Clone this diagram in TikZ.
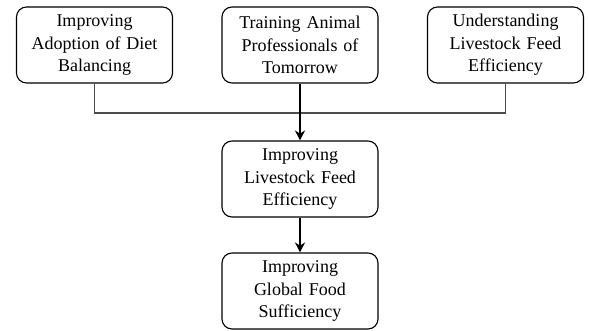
\documentclass[tikz,border=0pt]{standalone}
\usepackage{fontspec}
\setmainfont{Liberation Serif}
\usepackage{xcolor}
\usetikzlibrary{arrows.meta}

\tikzset{
  goalbox/.style={draw, line width=1.1pt, rounded corners=10pt, align=center,
    minimum width=156pt, minimum height=76pt, text width=150pt,
    font=\fontsize{18}{22.5}\selectfont, inner sep=0pt},
  feeder/.style={draw=black!70, line width=1.3pt},
}

\begin{document}
\begin{tikzpicture}[>={Stealth[length=10pt,width=10pt]}, x=1pt, y=-1pt]
  % Frame
  \useasboundingbox (0,0) rectangle (589,331);

  % Top row
  \node[goalbox] (adopt) at (94.5,45) {Improving\\Adoption of Diet\\Balancing};
  \node[goalbox] (train) at (300,45) {Training Animal\\Professionals of\\Tomorrow};
  \node[goalbox] (understand) at (505.5,45) {Understanding\\Livestock Feed\\Efficiency};

  % Lower column
  \node[goalbox] (feed) at (300,179) {Improving\\Livestock Feed\\Efficiency};
  \node[goalbox] (global) at (300,291) {Improving\\Global Food\\Sufficiency};

  % Join line
  \coordinate (join) at (300,113);
  \draw[feeder] (adopt.south) |- (join) -| (understand.south);

  % Arrows
  \draw[->, line width=2pt] (train.south) -- (feed.north);
  \draw[->, line width=1.5pt] (feed.south) -- (global.north);
\end{tikzpicture}
\end{document}
